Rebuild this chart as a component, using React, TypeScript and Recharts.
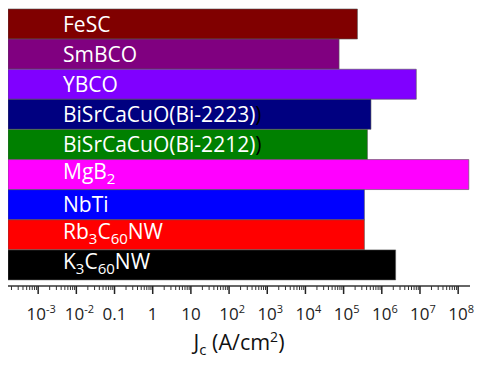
import { Bar, BarChart, Cell, LabelList, XAxis, YAxis, Label } from "recharts";

const categories = [
  "FeSC",
  "SmBCO",
  "YBCO",
  "BiSrCaCuO(Bi-2223)",
  "BiSrCaCuO(Bi-2212)",
  "MgB2",
  "NbTi",
  "Rb3C60NW",
  "K3C60NW",
];
const jcValues = [2.3e5, 7.6e4, 8e6, 5.2e5, 4.2e5, 1.9e8, 3.5e5, 3.5e5, 2.3e6];
const barColors = [
  "#800000",
  "#800080",
  "#8000FF",
  "#000080",
  "#008000",
  "#FF00FF",
  "#0000FF",
  "#FF0000",
  "#000000",
];

type Seg = { t: string; sub?: boolean; color?: string };
const labelParts: Record<string, Seg[]> = {
  FeSC: [{ t: "FeSC" }],
  SmBCO: [{ t: "SmBCO" }],
  YBCO: [{ t: "YBCO" }],
  "BiSrCaCuO(Bi-2223)": [{ t: "BiSrCaCuO(Bi-2223)" }, { t: ")", color: "#000" }],
  "BiSrCaCuO(Bi-2212)": [{ t: "BiSrCaCuO(Bi-2212)" }, { t: ")", color: "#000" }],
  MgB2: [{ t: "MgB" }, { t: "2", sub: true }],
  NbTi: [{ t: "NbTi" }],
  Rb3C60NW: [{ t: "Rb" }, { t: "3", sub: true }, { t: "C" }, { t: "60", sub: true }, { t: "NW" }],
  K3C60NW: [{ t: "K" }, { t: "3", sub: true }, { t: "C" }, { t: "60", sub: true }, { t: "NW" }],
};

// decades shown on the axis, labels as base + exponent
const decades = [-3, -2, -1, 0, 1, 2, 3, 4, 5, 6, 7, 8];
const decadeLabels: Record<number, [string, string]> = {
  [-3]: ["10", "-3"],
  [-2]: ["10", "-2"],
  [-1]: ["0.1", ""],
  0: ["1", ""],
  1: ["10", ""],
  2: ["10", "2"],
  3: ["10", "3"],
  4: ["10", "4"],
  5: ["10", "5"],
  6: ["10", "6"],
  7: ["10", "7"],
  8: ["10", "8"],
};
const minorMultipliers = [2, 3, 4, 5, 6, 7, 8, 9];

const axisTicks: number[] = [];
[-4, ...decades.slice(0, -1)].forEach((d) => {
  minorMultipliers.forEach((m) => axisTicks.push(m * Math.pow(10, d)));
});
decades.forEach((d) => axisTicks.push(Math.pow(10, d)));
axisTicks.sort((a, b) => a - b);

const data = categories.map((name, i) => ({ name, jc: jcValues[i] }));

const FONT = "'Open Sans', sans-serif";

const AxisTick = (props: any) => {
  const { x, y, payload } = props;
  const lg = Math.log10(payload.value);
  const d = Math.round(lg);
  const isMajor = Math.abs(lg - d) < 1e-6;
  if (!isMajor) {
    return <line x1={x} x2={x} y1={y} y2={y + 4} stroke="#333" strokeWidth={1} />;
  }
  const [base, exp] = decadeLabels[d];
  return (
    <g>
      <line x1={x} x2={x} y1={y} y2={y + 8} stroke="#222" strokeWidth={1.5} />
      <text x={x + (exp ? 3 : 0)} y={y + 34} textAnchor="middle" fontFamily={FONT} fontSize={17} fill="#222">
        {base}
        {exp && (
          <tspan fontSize={11} dy={-7}>
            {exp}
          </tspan>
        )}
      </text>
    </g>
  );
};

const BarName = (props: any) => {
  const { x, y, height, value } = props;
  const parts = labelParts[value] || [{ t: String(value) }];
  const hasSub = parts.some((p) => p.sub);
  const baseY = y + height / 2 + (hasSub ? 4.5 : 7.5);
  let shift = 0;
  return (
    <text x={x + 55} y={baseY} fontFamily={FONT} fontSize={21} fill="#fff">
      {parts.map((p, i) => {
        const dy = p.sub ? 5 - shift : -shift;
        shift = p.sub ? 5 : 0;
        return (
          <tspan key={i} dy={dy} fontSize={p.sub ? 15 : 21} fill={p.color || "#fff"}>
            {p.t}
          </tspan>
        );
      })}
    </text>
  );
};

const AxisTitle = (props: any) => {
  const { viewBox } = props;
  const cx = viewBox.x + viewBox.width / 2;
  return (
    <text x={cx} y={viewBox.y + 64} textAnchor="middle" fontFamily={FONT} fontSize={21.5} fill="#111">
      J
      <tspan fontSize={15} dy={5}>
        c
      </tspan>
      <tspan dy={-5}> (A/cm</tspan>
      <tspan fontSize={14} dy={-8}>
        2
      </tspan>
      <tspan dy={8}>)</tspan>
    </text>
  );
};

export default function App() {
  return (
    <div style={{ position: "absolute", left: 0, top: 0, background: "#fff" }}>
      <BarChart
        width={477}
        height={365}
        data={data}
        layout="vertical"
        barCategoryGap={0}
        margin={{ top: 9, right: 7, left: 8, bottom: 0 }}
      >
        <XAxis
          type="number"
          dataKey="jc"
          scale="log"
          domain={[Math.pow(10, -3.79), Math.pow(10, 8.31)]}
          allowDataOverflow
          ticks={axisTicks}
          interval={0}
          height={79}
          tickSize={0}
          tickMargin={0}
          tickLine={false}
          axisLine={{ stroke: "#333", strokeWidth: 1.5 }}
          tick={<AxisTick />}
        >
          <Label content={<AxisTitle />} />
        </XAxis>
        <YAxis type="category" dataKey="name" hide padding={{ top: 0, bottom: 6 }} />
        <Bar dataKey="jc" isAnimationActive={false} stroke="#555" strokeOpacity={0.6} strokeWidth={1}>
          {data.map((entry, i) => (
            <Cell key={entry.name} fill={barColors[i]} />
          ))}
          <LabelList dataKey="name" content={<BarName />} />
        </Bar>
      </BarChart>
    </div>
  );
}
